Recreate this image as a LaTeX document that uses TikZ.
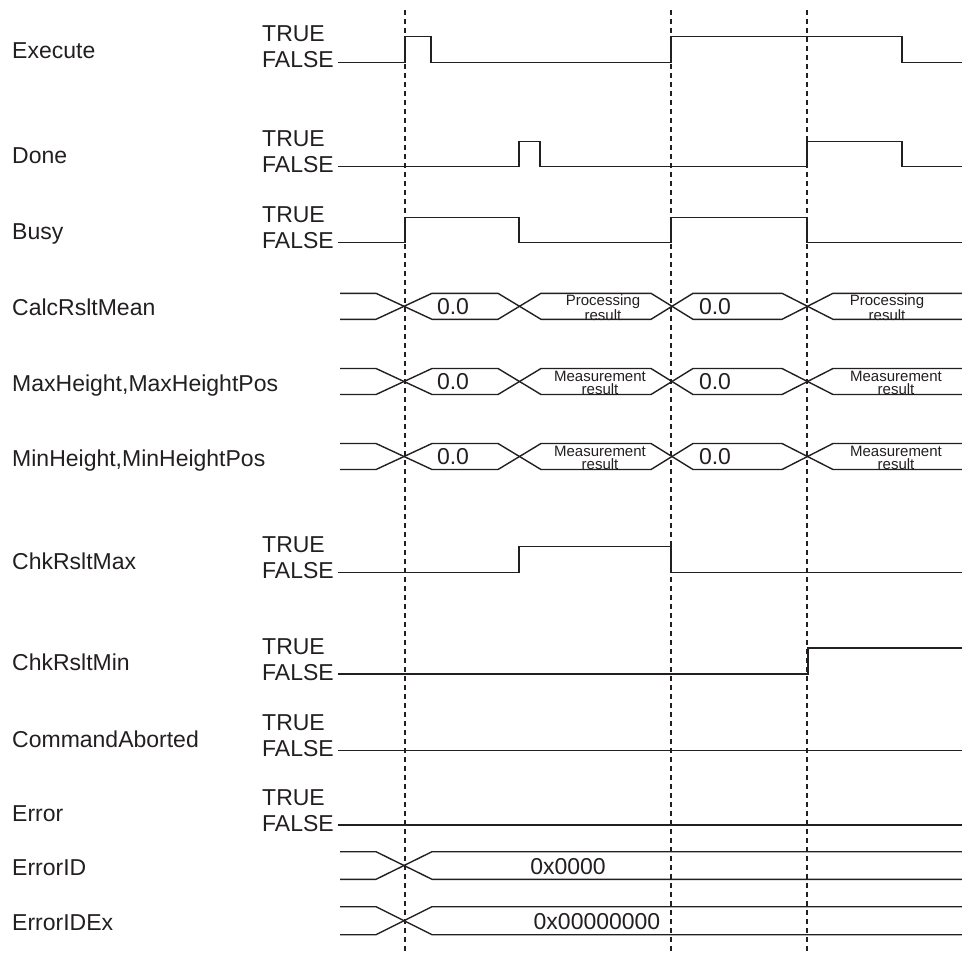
\documentclass[tikz,border=0pt]{standalone}
\usepackage{fontspec}
\setmainfont{Liberation Sans}
\definecolor{ink}{HTML}{231F20}
\begin{document}
\begin{tikzpicture}[x=1pt,y=-1pt,
  sig/.style={line width=1.4pt, draw=ink, line join=miter},
  guide/.style={line width=1.3pt, draw=ink, dash pattern=on 5pt off 4pt},
  lbl/.style={anchor=base west, inner sep=0pt, text=ink, font=\fontsize{23}{27}\selectfont},
  val/.style={anchor=base, inner sep=0pt, text=ink, font=\fontsize{23}{27}\selectfont},
  small/.style={anchor=center, align=center, inner sep=0pt, text=ink, font=\fontsize{15}{12.5}\selectfont}
]
\useasboundingbox (0,0) rectangle (962,956);

% guide lines
\coordinate (g1t) at (405,10);  \coordinate (g1b) at (405,953);
\coordinate (g2t) at (671,10);  \coordinate (g2b) at (671,953);
\coordinate (g3t) at (807,10);  \coordinate (g3b) at (807,953);
\draw[guide] (g1t) -- (g1b);
\draw[guide] (g2t) -- (g2b);
\draw[guide] (g3t) -- (g3b);

% ---------- binary signals ----------
% Execute  L=62.3
\node[lbl] (nExec) at (12,58.9) {Execute};
\node[lbl] (tExec) at (262,41.3) {TRUE};
\node[lbl] (fExec) at (262,67.8) {FALSE};
\draw[sig] (338,62.3) -- (405,62.3) -- (405,36.3) -- (431,36.3) -- (431,62.3) -- (671,62.3) -- (671,36.3) -- (902,36.3) -- (902,62.3) -- (962,62.3);

% Done  L=166.7
\node[lbl] (nDone) at (12,163.3) {Done};
\node[lbl] (tDone) at (262,146.7) {TRUE};
\node[lbl] (fDone) at (262,172.7) {FALSE};
\draw[sig] (338,166.7) -- (519,166.7) -- (519,141.7) -- (540,141.7) -- (540,166.7) -- (807,166.7) -- (807,141.7) -- (902,141.7) -- (902,166.7) -- (962,166.7);

% Busy  L=242.7
\node[lbl] (nBusy) at (12,239.3) {Busy};
\node[lbl] (tBusy) at (262,222.7) {TRUE};
\node[lbl] (fBusy) at (262,248.7) {FALSE};
\draw[sig] (338,242.7) -- (405,242.7) -- (405,217.7) -- (519,217.7) -- (519,242.7) -- (671,242.7) -- (671,217.7) -- (807,217.7) -- (807,242.7) -- (962,242.7);

% ChkRsltMax  L=572.7
\node[lbl] (nCMax) at (12,569.3) {ChkRsltMax};
\node[lbl] (tCMax) at (262,552.7) {TRUE};
\node[lbl] (fCMax) at (262,578.7) {FALSE};
\draw[sig] (338,572.7) -- (519,572.7) -- (519,546.7) -- (671,546.7) -- (671,572.7) -- (962,572.7);

% ChkRsltMin  L=674
\node[lbl] (nCMin) at (12,670.6) {ChkRsltMin};
\node[lbl] (tCMin) at (262,654) {TRUE};
\node[lbl] (fCMin) at (262,680) {FALSE};
\draw[sig] (338,674) -- (808,674) -- (808,648) -- (962,648);

% CommandAborted  L=750.7
\node[lbl] (nCAb) at (12,747.3) {CommandAborted};
\node[lbl] (tCAb) at (262,730.7) {TRUE};
\node[lbl] (fCAb) at (262,756.7) {FALSE};
\draw[sig] (338,750.7) -- (962,750.7);

% Error  L=825
\node[lbl] (nErr) at (12,821.6) {Error};
\node[lbl] (tErr) at (262,805) {TRUE};
\node[lbl] (fErr) at (262,831) {FALSE};
\draw[sig] (338,825) -- (962,825);

% ---------- bus signals ----------
% CalcRsltMean  c=306.3
\node[lbl] (nCalc) at (12,315.8) {CalcRsltMean};
\draw[sig] (340,293.3) -- (376,293.3) -- (432,319.3) -- (498,319.3) -- (541,293.3) -- (651,293.3) -- (693,319.3) -- (782,319.3) -- (833,293.3) -- (962,293.3);
\draw[sig] (340,319.3) -- (376,319.3) -- (432,293.3) -- (498,293.3) -- (541,319.3) -- (651,319.3) -- (693,293.3) -- (782,293.3) -- (833,319.3) -- (962,319.3);
\node[val] (vCalcA) at (453,314.6) {0.0};
\node[val] (vCalcB) at (715,314.6) {0.0};
\node[small] (pCalcA) at (603,308) {Processing\\result};
\node[small] (pCalcB) at (887,308) {Processing\\result};

% MaxHeight  c=381.5
\node[lbl] (nMaxH) at (12,391) {MaxHeight,MaxHeightPos};
\draw[sig] (340,368.5) -- (376,368.5) -- (432,394.5) -- (498,394.5) -- (541,368.5) -- (651,368.5) -- (693,394.5) -- (782,394.5) -- (833,368.5) -- (962,368.5);
\draw[sig] (340,394.5) -- (376,394.5) -- (432,368.5) -- (498,368.5) -- (541,394.5) -- (651,394.5) -- (693,368.5) -- (782,368.5) -- (833,394.5) -- (962,394.5);
\node[val] (vMaxA) at (453,389.8) {0.0};
\node[val] (vMaxB) at (715,389.8) {0.0};
\node[small] (pMaxA) at (600,383) {Measurement\\result};
\node[small] (pMaxB) at (896,383) {Measurement\\result};

% MinHeight  c=456.5
\node[lbl] (nMinH) at (12,466) {MinHeight,MinHeightPos};
\draw[sig] (340,443.5) -- (376,443.5) -- (432,469.5) -- (498,469.5) -- (541,443.5) -- (651,443.5) -- (693,469.5) -- (782,469.5) -- (833,443.5) -- (962,443.5);
\draw[sig] (340,469.5) -- (376,469.5) -- (432,443.5) -- (498,443.5) -- (541,469.5) -- (651,469.5) -- (693,443.5) -- (782,443.5) -- (833,469.5) -- (962,469.5);
\node[val] (vMinA) at (453,464.8) {0.0};
\node[val] (vMinB) at (715,464.8) {0.0};
\node[small] (pMinA) at (600,458) {Measurement\\result};
\node[small] (pMinB) at (896,458) {Measurement\\result};

% ErrorID  c=865.5
\node[lbl] (nEID) at (12,875) {ErrorID};
\draw[sig] (340,851.7) -- (376,851.7) -- (432,879.3) -- (962,879.3);
\draw[sig] (340,879.3) -- (376,879.3) -- (432,851.7) -- (962,851.7);
\node[val] (vEID) at (568,874) {0x0000};

% ErrorIDEx  c=920.7
\node[lbl] (nEIDx) at (12,930.2) {ErrorIDEx};
\draw[sig] (340,906.7) -- (376,906.7) -- (432,934.7) -- (962,934.7);
\draw[sig] (340,934.7) -- (376,934.7) -- (432,906.7) -- (962,906.7);
\node[val] (vEIDx) at (597,929.2) {0x00000000};
\end{tikzpicture}
\end{document}
